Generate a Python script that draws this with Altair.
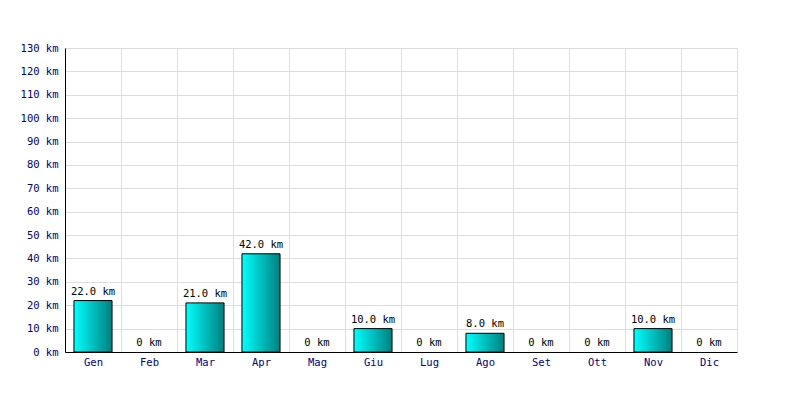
import altair as alt
import pandas as pd

months = ["Gen", "Feb", "Mar", "Apr", "Mag", "Giu", "Lug", "Ago", "Set", "Ott", "Nov", "Dic"]
distances = [22.0, 0, 21.0, 42.0, 0, 10.0, 0, 8.0, 0, 0, 10.0, 0]
labels = [f"{v:.1f} km" if v else "0 km" for v in distances]

df = pd.DataFrame({"month": months, "km": distances, "label": labels})

FONT = "DejaVu Sans Mono"
FS = 10.5

x = alt.X(
    "month:N",
    sort=months,
    scale=alt.Scale(paddingInner=0, paddingOuter=0),
    axis=alt.Axis(
        title=None, labelAngle=0, grid=True, tickBand="extent", ticks=False,
        labelPadding=5, domainColor="black", labelColor="#000080",
        labelFont=FONT, labelFontSize=FS, gridColor="#dddddd",
    ),
)
y = alt.Y(
    "km:Q",
    scale=alt.Scale(domain=[0, 130], nice=False),
    axis=alt.Axis(
        title=None, values=list(range(0, 131, 10)), labelExpr="datum.value + ' km'",
        ticks=False, labelPadding=7, domainColor="black", labelColor="#000080",
        labelFont=FONT, labelFontSize=FS, gridColor="#dddddd",
    ),
)

gradient = alt.Gradient(
    gradient="linear",
    stops=[alt.GradientStop(color="#00FFFF", offset=0), alt.GradientStop(color="#008080", offset=1)],
    x1=0, x2=1, y1=0, y2=0,
)

bars = alt.Chart(df).transform_filter("datum.km > 0").mark_bar(
    color=gradient, stroke="black", strokeWidth=1, width=alt.RelativeBandSize(0.68)
).encode(x=x, y=y)

text = alt.Chart(df).mark_text(
    baseline="bottom", dy=-4, font=FONT, fontSize=FS, color="black"
).encode(x=x, y=y, text="label:N")

chart = (bars + text).properties(
    width=672, height=304,
    autosize=alt.AutoSizeParams(type="none"),
    padding={"left": 57, "top": 40, "right": 55, "bottom": 40},
).configure_view(stroke="#dddddd")

chart.save("out.html", embed_options={"renderer": "svg", "actions": False})
